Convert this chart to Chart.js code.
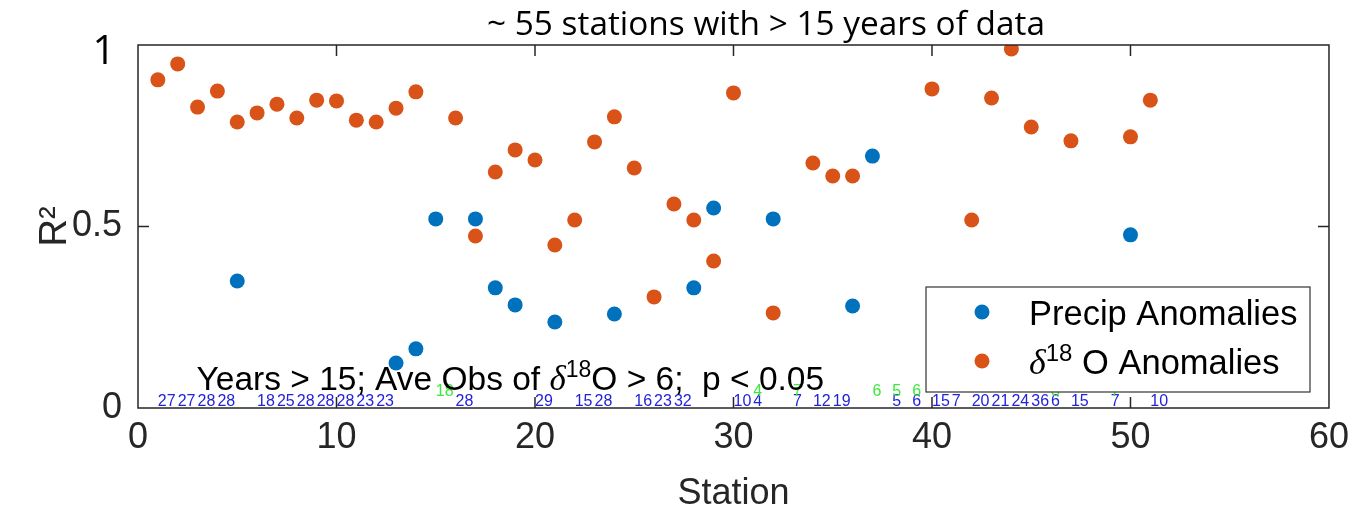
<!DOCTYPE html>
<html>
<head>
    <title>R2 by Station</title>
    <script src="https://cdn.jsdelivr.net/npm/chart.js"></script>
    <style>
        body { margin: 0; background: #fff; }
        .chart-container { width: 1357px; height: 511px; }
    </style>
</head>
<body>
    <div class="chart-container">
        <canvas id="r2Chart" width="1357" height="511"></canvas>
    </div>
    <script>
        // values
        const precipStations = [5, 13, 14, 15, 17, 18, 19, 21, 24, 28, 29, 32, 36, 37, 50];
        const precipR2 = [0.350, 0.124, 0.163, 0.521, 0.521, 0.331, 0.284, 0.237, 0.259, 0.331, 0.551, 0.521, 0.281, 0.694, 0.477];

        const d18oStations = [1, 2, 3, 4, 5, 6, 7, 8, 9, 10, 11, 12, 13, 14, 16, 17, 18, 19, 20, 21, 22, 23, 24, 25, 26, 27, 28, 29, 30, 32, 34, 35, 36, 40, 42, 43, 44, 45, 47, 50, 51];
        const d18oR2 = [0.904, 0.948, 0.829, 0.873, 0.788, 0.813, 0.837, 0.799, 0.848, 0.846, 0.793, 0.788, 0.826, 0.871, 0.799, 0.474, 0.650, 0.711, 0.683, 0.449, 0.518, 0.733, 0.802, 0.661, 0.306, 0.562, 0.518, 0.405, 0.868, 0.262, 0.675, 0.639, 0.639, 0.879, 0.518, 0.854, 0.989, 0.774, 0.736, 0.747, 0.848];

        // blue numbers along the bottom (years of record)
        const yearStations = [1, 2, 3, 4, 6, 7, 8, 9, 10, 11, 12, 16, 20, 22, 23, 25, 26, 27, 30, 31, 33, 34, 35, 38, 39, 40, 41, 42, 43, 44, 45, 46, 47, 49, 51];
        const yearLabels = ['27', '27', '28', '28', '18', '25', '28', '28', '28', '23', '23', '28', '29', '15', '28', '16', '23', '32', '10', '4', '7', '12', '19', '5', '6', '15', '7', '20', '21', '24', '36', '6', '15', '7', '10'];
        // green numbers (average obs)
        const obsStations = [15, 31, 33, 37, 38, 39, 46, 49];
        const obsLabels = ['18', '4', '7', '6', '5', '6', '8', '7'];

        const xTicks = [0, 10, 20, 30, 40, 50, 60];
        const yTicks = [0, 0.5, 1];

        const BLUE = '#0072BD';
        const ORANGE = '#D95319';
        const AXIS = '#262626';
        const SANS = "'Liberation Sans', Helvetica, Arial, sans-serif";
        const SERIF = "'Liberation Serif', 'DejaVu Serif', serif";

        function toPoints(xs, ys) {
            return xs.map((x, i) => ({ x: x, y: ys[i] }));
        }

        // draws a run of text pieces, each {t, font, dy}
        function drawRich(ctx, x, y, parts) {
            parts.forEach(p => {
                ctx.font = p.font;
                ctx.fillText(p.t, x, y - (p.dy || 0));
                x += ctx.measureText(p.t).width;
            });
        }

        const overlay = {
            id: 'overlay',
            afterDatasetsDraw(chart) {
                const ctx = chart.ctx;
                const xs = chart.scales.x;
                const ys = chart.scales.y;
                const a = chart.chartArea;
                ctx.save();

                // box
                ctx.strokeStyle = AXIS;
                ctx.lineWidth = 1.5;
                ctx.strokeRect(a.left, a.top, a.right - a.left, a.bottom - a.top);

                // inner ticks
                ctx.beginPath();
                xTicks.slice(1, -1).forEach(v => {
                    const px = xs.getPixelForValue(v);
                    ctx.moveTo(px, a.bottom); ctx.lineTo(px, a.bottom - 11);
                    ctx.moveTo(px, a.top); ctx.lineTo(px, a.top + 11);
                });
                yTicks.slice(1, -1).forEach(v => {
                    const py = ys.getPixelForValue(v);
                    ctx.moveTo(a.left, py); ctx.lineTo(a.left + 11, py);
                    ctx.moveTo(a.right, py); ctx.lineTo(a.right - 11, py);
                });
                ctx.stroke();

                // station labels
                ctx.textAlign = 'left';
                ctx.textBaseline = 'alphabetic';
                ctx.font = '16px ' + SANS;
                ctx.fillStyle = '#2222dd';
                yearStations.forEach((s, i) => {
                    ctx.fillText(yearLabels[i], xs.getPixelForValue(s), ys.getPixelForValue(0.006));
                });
                ctx.fillStyle = '#3ce83c';
                obsStations.forEach((s, i) => {
                    ctx.fillText(obsLabels[i], xs.getPixelForValue(s), ys.getPixelForValue(0.033));
                });

                // criteria note
                ctx.fillStyle = '#000';
                drawRich(ctx, xs.getPixelForValue(2.95), ys.getPixelForValue(0.05), [
                    { t: 'Years > 15; Ave Obs of ', font: '33.5px ' + SANS },
                    { t: '\u03B4', font: 'italic 35px ' + SERIF },
                    { t: '18', font: '23px ' + SANS, dy: 13 },
                    { t: 'O > 6;  p < 0.05', font: '33.5px ' + SANS }
                ]);

                // legend
                const lx = 926, ly = 287, lw = 384, lh = 105;
                ctx.fillStyle = '#fff';
                ctx.fillRect(lx, ly, lw, lh);
                ctx.strokeStyle = '#333';
                ctx.lineWidth = 1.2;
                ctx.strokeRect(lx, ly, lw, lh);
                const items = chart.data.datasets;
                ctx.fillStyle = items[0].backgroundColor;
                ctx.beginPath(); ctx.arc(lx + 56, ly + 25, 7.5, 0, Math.PI * 2); ctx.fill();
                ctx.fillStyle = items[1].backgroundColor;
                ctx.beginPath(); ctx.arc(lx + 56, ly + 74, 7.5, 0, Math.PI * 2); ctx.fill();
                ctx.fillStyle = '#000';
                drawRich(ctx, lx + 103, ly + 38, [{ t: items[0].label, font: '34.5px ' + SANS }]);
                drawRich(ctx, lx + 103, ly + 87, [
                    { t: '\u03B4', font: 'italic 36px ' + SERIF },
                    { t: '18', font: '24px ' + SANS, dy: 13 },
                    { t: ' O Anomalies', font: '34.5px ' + SANS }
                ]);

                // big "1" at the top of the y axis (pasted on the slide)
                ctx.font = "40px 'Open Sans', 'DejaVu Sans', sans-serif";
                ctx.textAlign = 'center';
                ctx.fillText('1', 104, ys.getPixelForValue(1) + 19);

                // slide title, squeezed to its width
                const title = '~ 55 stations with > 15 years of data';
                ctx.font = "32px 'Liberation Sans Narrow', 'Open Sans', sans-serif";
                const w = ctx.measureText(title).width;
                ctx.translate(766, 35);
                ctx.scale(558 / w, 1);
                ctx.fillText(title, 0, 0);

                ctx.restore();
            }
        };

        function setupChart() {
            const ctx = document.getElementById('r2Chart').getContext('2d');
            new Chart(ctx, {
                type: 'scatter',
                data: {
                    datasets: [{
                        label: 'Precip Anomalies',
                        data: toPoints(precipStations, precipR2),
                        backgroundColor: BLUE,
                        borderWidth: 0,
                        pointRadius: 7.5,
                        pointHoverRadius: 7.5
                    }, {
                        label: '\u03B418 O Anomalies',
                        data: toPoints(d18oStations, d18oR2),
                        backgroundColor: ORANGE,
                        borderWidth: 0,
                        pointRadius: 7.5,
                        pointHoverRadius: 7.5
                    }]
                },
                options: {
                    responsive: false,
                    animation: false,
                    devicePixelRatio: 1,
                    layout: { padding: { left: 0, top: 45, right: 25, bottom: 0 } },
                    plugins: {
                        legend: { display: false },
                        tooltip: { enabled: false }
                    },
                    scales: {
                        x: {
                            type: 'linear',
                            min: 0, max: 60,
                            afterBuildTicks: s => { s.ticks = xTicks.map(v => ({ value: v })); },
                            afterFit: s => { s.height = 103; },
                            grid: { display: false, drawTicks: false },
                            border: { display: false },
                            ticks: { color: AXIS, padding: 8, maxRotation: 0, font: { size: 36, family: SANS } },
                            title: { display: true, text: 'Station', color: AXIS, padding: 0, font: { size: 36, family: SANS, lineHeight: 0.95 } }
                        },
                        y: {
                            min: 0, max: 1,
                            afterBuildTicks: s => { s.ticks = yTicks.map(v => ({ value: v })); },
                            afterFit: s => { s.width = 138; },
                            grid: { display: false, drawTicks: false },
                            border: { display: false },
                            ticks: {
                                color: AXIS, padding: 16,
                                font: { size: 36, family: SANS },
                                callback: v => (v === 1 ? '' : String(v))
                            },
                            title: { display: true, text: 'R\u00B2', color: AXIS, padding: { top: 33, bottom: 0 }, font: { size: 38, family: SANS } }
                        }
                    }
                },
                plugins: [overlay]
            });
        }

        window.onload = setupChart;
    </script>
</body>
</html>
